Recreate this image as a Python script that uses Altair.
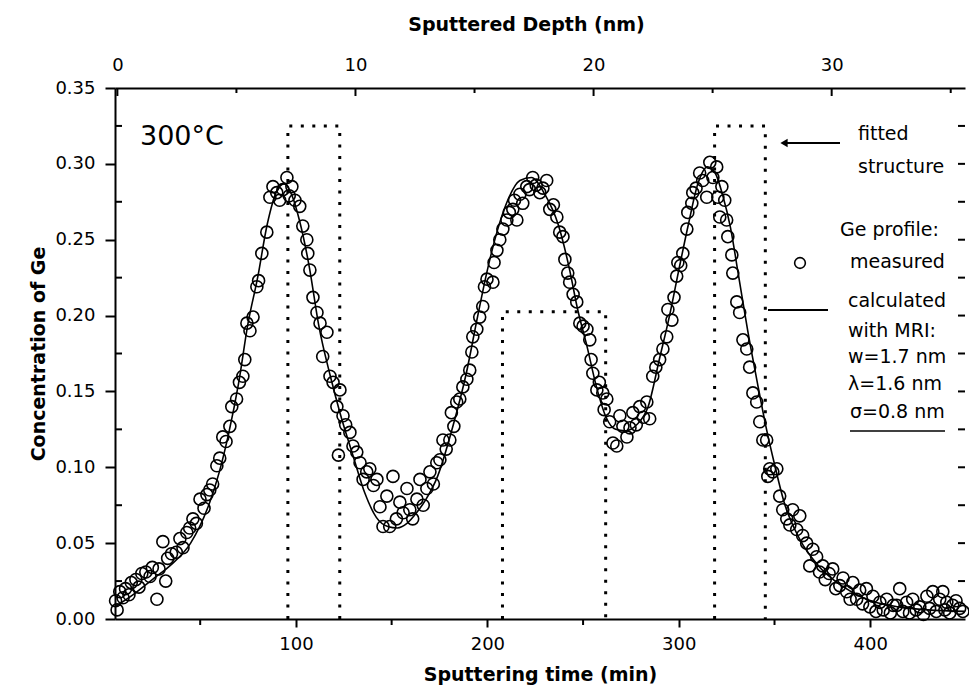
import altair as alt
import pandas as pd

# ---------------- data ----------------
# measured Ge concentration (circles)
meas_t = [5.8, 6.6, 8, 9.7, 11, 12.8, 14, 16.4, 18, 19.5, 21.6, 23.8, 25, 27.4, 28.5, 30.5, 32, 33, 35, 37.5,
          39.4, 41, 43, 44.5, 46.2, 48, 49.9, 52, 53.5, 55, 56.5, 58.7, 60.2, 61.8, 63.5, 65.5, 66.5, 69, 70.5, 72.3,
          73.3, 74.4, 76, 77.6, 79.6, 80.5, 82.2, 84.8, 86.4, 88, 90, 91.5, 93.2, 95.3, 96.5, 97.9, 99.5, 102, 103.6, 105.7,
          106.2, 107.3, 108.9, 111, 112.6, 114, 116.2, 117.8, 119.4, 121.4, 122.2, 123, 124.6, 126, 128.2, 129.8, 131.8, 133.5, 135.1, 137,
          138.6, 140.5, 142.3, 143.9, 145.5, 147.5, 149, 150.7, 152.5, 154.3, 156, 158, 159.5, 161, 163.2, 164.8, 166.5, 168.4, 170, 171.8,
          173.6, 175.2, 176.8, 178.5, 180.4, 181.2, 182.5, 184, 185.6, 187.2, 189.3, 190.8, 191.9, 192.4, 194.5, 196, 197.6, 198.5, 199.8, 202.9,
          203.5, 205, 206.5, 208.1, 210.2, 211.5, 213.3, 214.2, 215.4, 217, 218.5, 220.6, 222, 223.7, 225.5, 227.4, 229, 231, 232.6, 234.5,
          236.3, 237.8, 239.5, 240.5, 242, 243, 244.8, 246.7, 248.3, 250, 252, 253.5, 254.2, 255.1, 257.2, 258.5, 260.3, 261, 262.4, 263.9,
          265.6, 267.6, 269.2, 270.8, 272.9, 274.5, 276, 277.8, 279.6, 281.5, 283.3, 284.8, 286.4, 288, 290, 291.7, 293.7, 294.3, 296.4, 297.5,
          298.9, 299.5, 301, 302.1, 304.2, 304.7, 306.8, 307.3, 309, 310.9, 312.5, 314.6, 316.2, 317.8, 319.8, 320.4, 321.4, 322.5, 324, 325,
          325.6, 327.7, 328.2, 330.3, 331.8, 333.5, 335.5, 337, 338.7, 340.7, 342.3, 343.9, 345.9, 346.5, 347.5, 349.1, 351.2, 352.7, 354.3, 356.4,
          358, 359.5, 361.6, 363.2, 364.7, 366.8, 368.4, 370, 372, 373.5, 375.2, 376.5, 378.5, 380.4, 382, 384.1, 385.8, 387.7, 389.5, 390.9,
          392.9, 394.5, 396, 398, 399.8, 401.4, 403, 405, 406.8, 408.6, 410.5, 412, 413.8, 415.4, 417, 419, 420.5, 422.2, 424, 425.9,
          427.8, 429.6, 431, 432.7, 434.5, 436.3, 437.9, 439, 440, 441.5, 443.1, 444.8, 446.7, 448.4]
meas_v = [0.012, 0.006, 0.018, 0.014, 0.020, 0.016, 0.024, 0.026, 0.021, 0.030, 0.031, 0.028, 0.034, 0.013, 0.033, 0.051, 0.025, 0.040, 0.043, 0.044,
          0.053, 0.047, 0.057, 0.060, 0.066, 0.063, 0.079, 0.073, 0.082, 0.085, 0.089, 0.101, 0.106, 0.120, 0.117, 0.127, 0.140, 0.145, 0.156, 0.160,
          0.171, 0.195, 0.190, 0.199, 0.219, 0.223, 0.241, 0.255, 0.278, 0.285, 0.281, 0.276, 0.283, 0.291, 0.279, 0.285, 0.276, 0.272, 0.259, 0.250,
          0.241, 0.230, 0.212, 0.202, 0.195, 0.173, 0.189, 0.160, 0.156, 0.140, 0.108, 0.151, 0.134, 0.128, 0.123, 0.114, 0.110, 0.103, 0.092, 0.097,
          0.099, 0.088, 0.092, 0.074, 0.061, 0.081, 0.061, 0.094, 0.066, 0.077, 0.070, 0.086, 0.072, 0.066, 0.079, 0.092, 0.075, 0.086, 0.097, 0.089,
          0.103, 0.105, 0.118, 0.112, 0.118, 0.136, 0.127, 0.143, 0.145, 0.153, 0.158, 0.164, 0.176, 0.186, 0.191, 0.199, 0.206, 0.219, 0.224, 0.222,
          0.235, 0.243, 0.250, 0.257, 0.263, 0.268, 0.270, 0.276, 0.263, 0.280, 0.274, 0.285, 0.283, 0.291, 0.286, 0.281, 0.284, 0.289, 0.270, 0.273,
          0.265, 0.255, 0.252, 0.237, 0.228, 0.222, 0.214, 0.209, 0.195, 0.193, 0.191, 0.184, 0.171, 0.162, 0.151, 0.156, 0.149, 0.138, 0.145, 0.130,
          0.116, 0.114, 0.134, 0.127, 0.120, 0.126, 0.136, 0.128, 0.140, 0.133, 0.143, 0.132, 0.160, 0.166, 0.171, 0.178, 0.186, 0.204, 0.197, 0.212,
          0.226, 0.235, 0.233, 0.241, 0.257, 0.268, 0.274, 0.281, 0.284, 0.294, 0.289, 0.278, 0.301, 0.291, 0.298, 0.278, 0.265, 0.285, 0.276, 0.263,
          0.252, 0.240, 0.228, 0.209, 0.202, 0.184, 0.178, 0.166, 0.149, 0.143, 0.130, 0.118, 0.118, 0.094, 0.099, 0.097, 0.099, 0.081, 0.072, 0.066,
          0.062, 0.072, 0.059, 0.068, 0.055, 0.050, 0.035, 0.046, 0.041, 0.031, 0.035, 0.026, 0.030, 0.033, 0.020, 0.022, 0.027, 0.018, 0.013, 0.024,
          0.013, 0.019, 0.010, 0.020, 0.008, 0.015, 0.005, 0.011, 0.006, 0.013, 0.004, 0.009, 0.009, 0.020, 0.005, 0.011, 0.004, 0.013, 0.006, 0.008,
          0.003, 0.015, 0.007, 0.018, 0.005, 0.013, 0.018, 0.006, 0.011, 0.004, 0.009, 0.012, 0.007, 0.005]

# calculated profile with MRI model (solid line)
calc_t = [5.5, 15, 25, 35, 45, 55, 60, 65, 70, 75, 80, 85, 90, 94, 98, 102, 107, 112, 118, 123,
          130, 136, 142, 148, 153, 158, 163, 168, 174, 182, 189, 195, 200, 205, 210, 217, 223, 230, 237, 243,
          247, 252, 257, 262, 267, 272, 278, 284, 290, 295, 300, 305, 310, 315, 319, 323, 327, 331, 336, 341,
          346, 350, 355, 363, 373, 385, 398, 415, 430, 449.5]
calc_v = [0.008, 0.016, 0.026, 0.036, 0.050, 0.077, 0.097, 0.123, 0.155, 0.195, 0.225, 0.260, 0.282, 0.287, 0.279, 0.262, 0.232, 0.193, 0.160, 0.136,
          0.107, 0.083, 0.067, 0.061, 0.060, 0.063, 0.070, 0.079, 0.094, 0.127, 0.162, 0.200, 0.230, 0.255, 0.274, 0.289, 0.291, 0.280, 0.260, 0.230,
          0.205, 0.180, 0.153, 0.133, 0.125, 0.124, 0.128, 0.140, 0.172, 0.199, 0.230, 0.260, 0.287, 0.298, 0.294, 0.279, 0.258, 0.228, 0.190, 0.156,
          0.124, 0.102, 0.077, 0.053, 0.035, 0.022, 0.013, 0.008, 0.006, 0.005]

# fitted structure (dotted boxes)
box_left = [95.8, 207.9, 318.7]
box_right = [122.9, 261.8, 345.2]
box_top = [0.325, 0.2025, 0.325]

# tick values
x_major = [100, 200, 300, 400]
x_minor = [50, 150, 250, 350]
y_major = [0, 0.05, 0.10, 0.15, 0.20, 0.25, 0.30, 0.35]
y_minor = [0.025, 0.075, 0.125, 0.175, 0.225, 0.275, 0.325]
y_right = [0.025, 0.05, 0.075, 0.10, 0.125, 0.15, 0.175, 0.20, 0.225, 0.25, 0.275, 0.30, 0.325]
nm_major = [0, 10, 20, 30]
nm_minor = [5, 15, 25, 35]

# ---------------- tables ----------------
meas = pd.DataFrame({"t": meas_t, "v": meas_v})
calc = pd.DataFrame({"t": calc_t, "v": calc_v})
rows = []
for b, (l, r, top) in enumerate(zip(box_left, box_right, box_top)):
    rows += [{"t": l, "v": 0.0, "box": b, "i": 0}, {"t": l, "v": top, "box": b, "i": 1},
             {"t": r, "v": top, "box": b, "i": 2}, {"t": r, "v": 0.0, "box": b, "i": 3}]
boxes = pd.DataFrame(rows)

FONT = "DejaVu Sans"
xscale = alt.Scale(domain=[5.5, 449.5], nice=False, zero=False)
yscale = alt.Scale(domain=[0, 0.35], nice=False, zero=True)
xaxis = alt.Axis(values=x_major, title="Sputtering time (min)", tickSize=8, labelPadding=8,
                 titlePadding=12, format="d")
yaxis = alt.Axis(values=y_major, title="Concentration of Ge", format=".2f", tickSize=10,
                 labelPadding=10, titlePadding=6)
X = alt.X("t:Q", scale=xscale, axis=xaxis)
Y = alt.Y("v:Q", scale=yscale, axis=yaxis)

profile = alt.Chart(boxes).mark_line(color="black", strokeWidth=3, strokeDash=[3, 8.5]).encode(
    x=X, y=Y, detail="box:N", order="i:O")
curve = alt.Chart(calc).mark_line(color="black", strokeWidth=1.6, interpolate="monotone").encode(x=X, y=Y)
points = alt.Chart(meas).mark_point(shape="circle", size=145, filled=False, color="black",
                                    strokeWidth=1.6, opacity=1).encode(x=X, y=Y)

xminor = alt.Chart(pd.DataFrame({"t": x_minor})).mark_rule(color="black", strokeWidth=2).encode(
    x=X, y=alt.value(531), y2=alt.value(537))
yminor = alt.Chart(pd.DataFrame({"v": y_minor})).mark_rule(color="black", strokeWidth=2).encode(
    y=Y, x=alt.value(0), x2=alt.value(7))
yright = alt.Chart(pd.DataFrame({"v": y_right})).mark_rule(color="black", strokeWidth=2).encode(
    y=Y, x=alt.value(843), x2=alt.value(850))

def txt(s, x, y, size=19, align="left", weight="normal"):
    return alt.Chart(alt.Data(values=[{}])).mark_text(
        text=s, font=FONT, fontSize=size, align=align, baseline="alphabetic", color="black",
        fontWeight=weight).encode(x=alt.value(x), y=alt.value(y))

def seg(x1, x2, y, w=2):
    return alt.Chart(alt.Data(values=[{}])).mark_rule(color="black", strokeWidth=w).encode(
        x=alt.value(x1), x2=alt.value(x2), y=alt.value(y))

annot = [
    txt("300°C", 25, 57, size=27),
    txt("fitted", 743, 52),
    txt("structure", 743, 85),
    seg(670, 725, 55),
    alt.Chart(alt.Data(values=[{}])).mark_point(shape="triangle-left", filled=True, size=70,
                                                color="black", opacity=1).encode(
        x=alt.value(669), y=alt.value(55)),
    txt("Ge profile:", 725, 148),
    alt.Chart(alt.Data(values=[{}])).mark_point(shape="circle", size=115, filled=False,
                                                color="black", strokeWidth=1.6, opacity=1).encode(
        x=alt.value(685), y=alt.value(175)),
    txt("measured", 735, 180),
    seg(653, 713, 222, 1.8),
    txt("calculated", 733, 219),
    txt("with MRI:", 733, 249),
    txt("w=1.7 nm", 733, 275),
    txt("λ=1.6 nm", 733, 302),
    txt("σ=0.8 nm", 735, 330),
    seg(735, 830, 343, 1.6),
]

layerA = alt.layer(profile, curve, points, xminor, yminor, yright, *annot)

NMscale = alt.Scale(domain=[-0.1, 35.6], nice=False, zero=False)
nmaxis = alt.Axis(values=nm_major, orient="top", title="Sputtered Depth (nm)", ticks=False,
                  tickSize=0, labelPadding=14, titlePadding=22, titleX=411, format="d")
NM = alt.X("nm:Q", scale=NMscale, axis=nmaxis)
top_major = alt.Chart(pd.DataFrame({"nm": nm_major})).mark_rule(color="black", strokeWidth=2).encode(
    x=NM, y=alt.value(0), y2=alt.value(8))
top_minor = alt.Chart(pd.DataFrame({"nm": nm_minor})).mark_rule(color="black", strokeWidth=2).encode(
    x=NM, y=alt.value(0), y2=alt.value(5))
layerB = alt.layer(top_major, top_minor)

chart = alt.layer(layerA, layerB).resolve_scale(x="independent").properties(
    width=850, height=531,
    autosize=alt.AutoSizeParams(type="none"),
    padding={"left": 115, "top": 88, "right": 4, "bottom": 74},
    background="white",
).configure_view(stroke=None).configure_axis(
    grid=False, domainColor="black", domainWidth=2, tickColor="black", tickWidth=2,
    labelColor="black", titleColor="black", labelFont=FONT, labelFontSize=18,
    titleFont=FONT, titleFontSize=19, titleFontWeight="bold",
)

chart.save("out.html", embed_options={"renderer": "svg", "actions": False})
